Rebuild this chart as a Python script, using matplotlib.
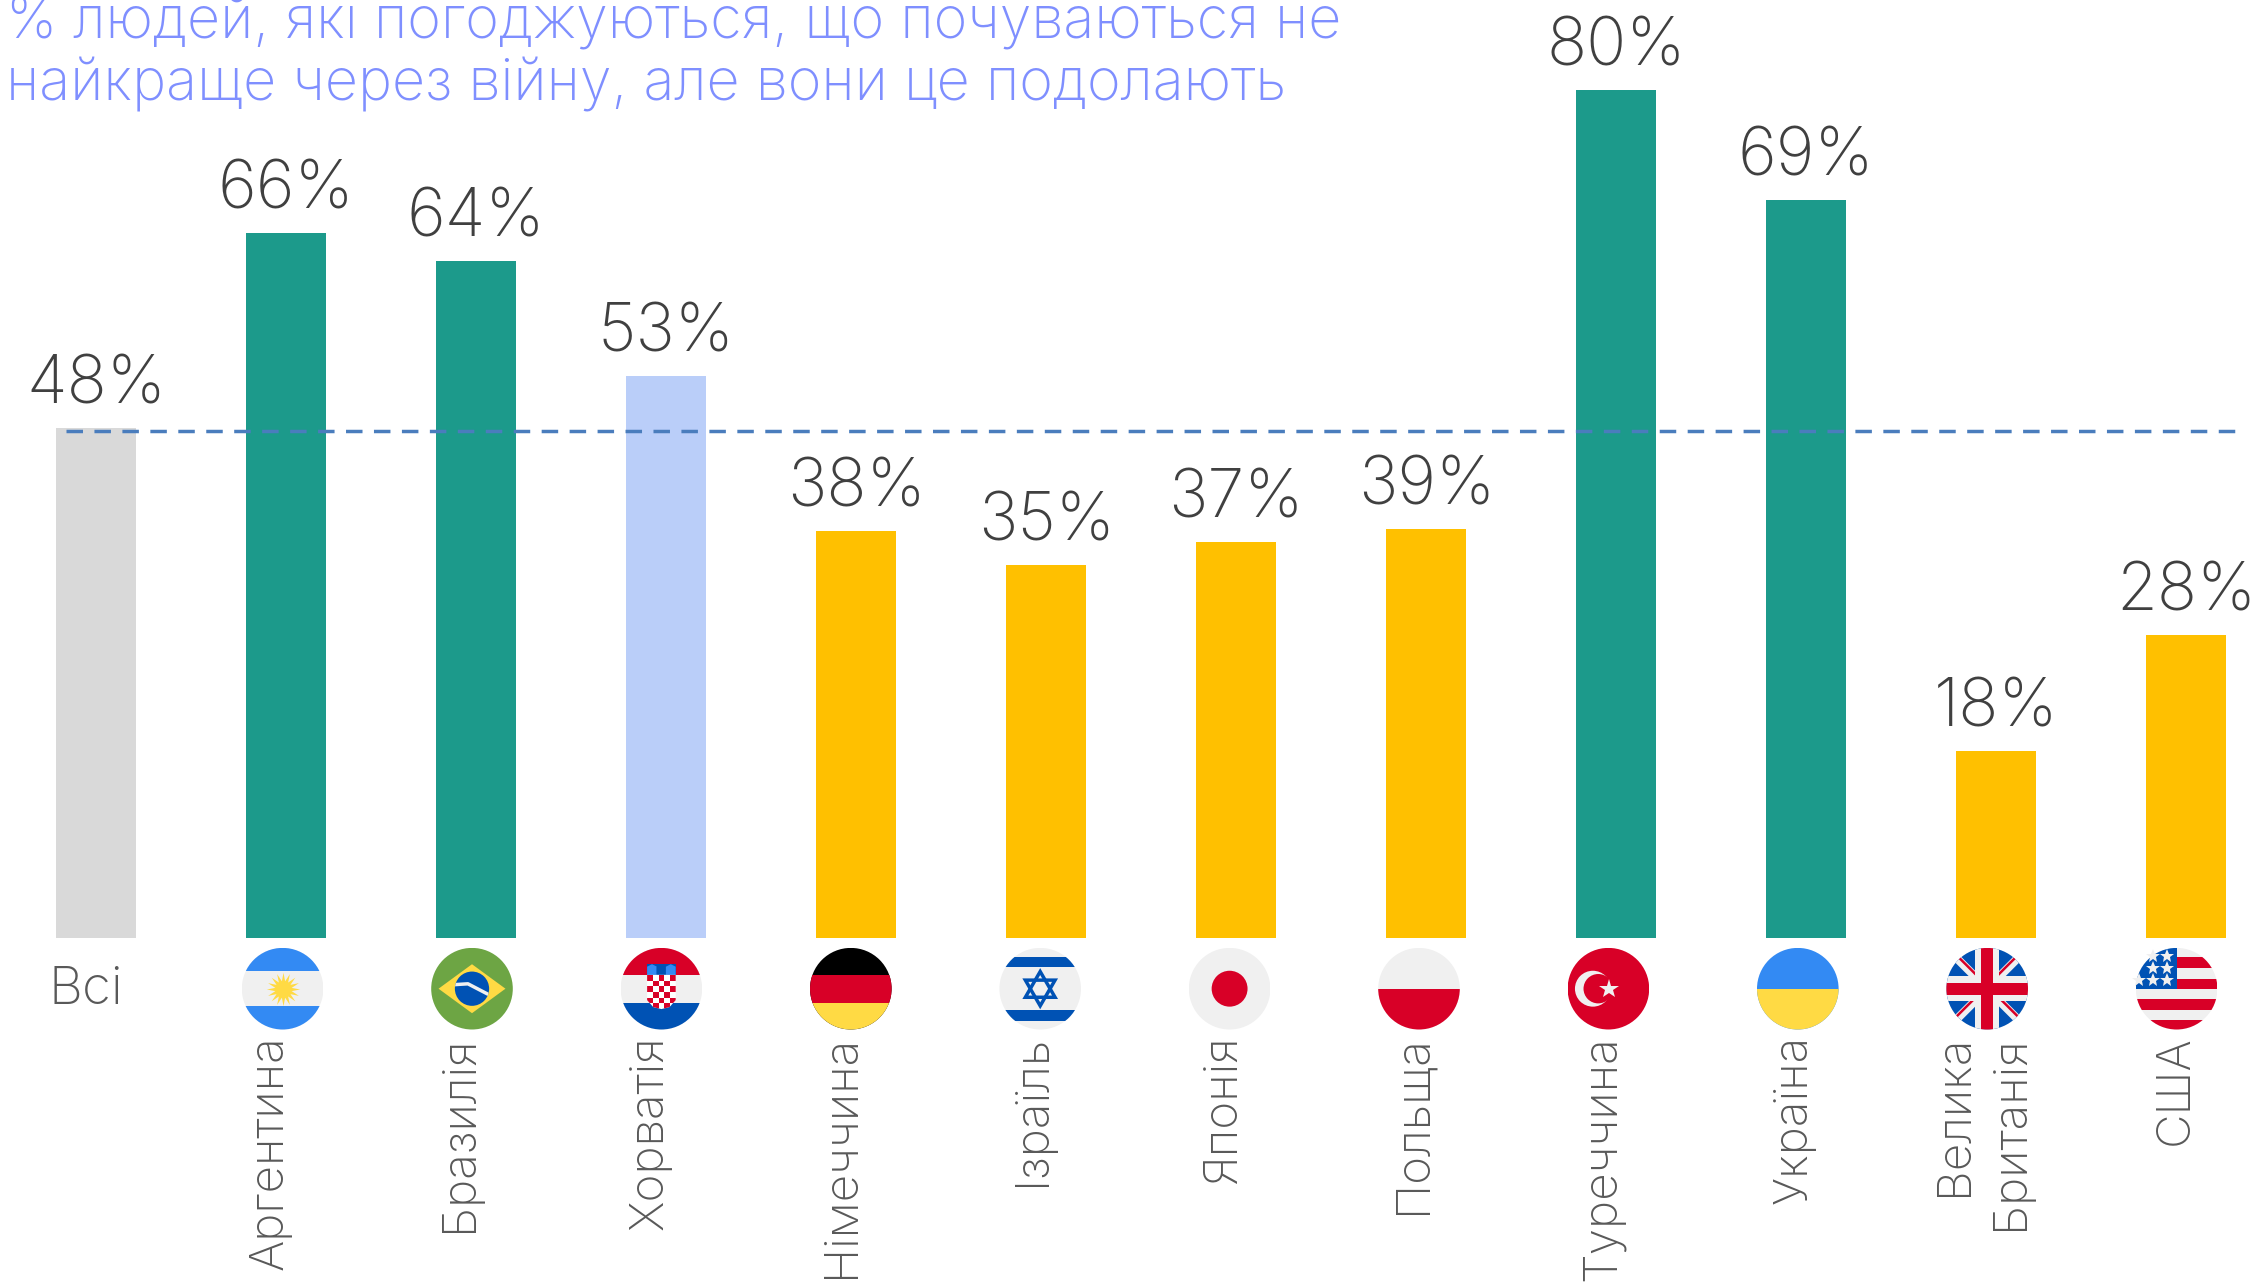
import matplotlib
matplotlib.use("Agg")
import matplotlib.pyplot as plt
from matplotlib.patches import Circle, Rectangle, Polygon, RegularPolygon

W, H = 2252, 1283
plt.rcParams['font.family'] = ['Inter', 'DejaVu Sans']

categories = ["Всі", "Аргентина", "Бразилія", "Хорватія", "Німеччина", "Ізраїль", "Японія",
              "Польща", "Туреччина", "Україна", "Велика\nБританія", "США"]
value_labels = [48, 66, 64, 53, 38, 35, 37, 39, 80, 69, 18, 28]
values = [48, 66.3, 63.7, 52.9, 38.3, 35.1, 37.3, 38.5, 79.8, 69.4, 17.6, 28.5]
bar_colors = ["#D9D9D9", "#1C9A8B", "#1C9A8B", "#BACEF9", "#FFC000", "#FFC000", "#FFC000",
              "#FFC000", "#1C9A8B", "#1C9A8B", "#FFC000", "#FFC000"]
flag_names = ["ar", "br", "hr", "de", "il", "jp", "pl", "tr", "ua", "gb", "us"]
avg_value = 47.7
title = "% людей, які погоджуються, що почуваються не\nнайкраще через війну, але вони це подолають"

# geometria em pixels da figura
x0_px, pitch_px, bar_px = 96.2, 190.0, 79.5
base_px, px_per_unit = 938.0, 10.63

fig = plt.figure(figsize=(W / 100, H / 100), dpi=100, facecolor="white")
ax = fig.add_axes([0, 1 - base_px / H, 1, base_px / H])
ax.set_xlim(-x0_px / pitch_px, (W - x0_px) / pitch_px)
ax.set_ylim(0, base_px / px_per_unit)
ax.axis("off")

xs = list(range(len(categories)))
ax.bar(xs, values, width=bar_px / pitch_px, color=bar_colors, linewidth=0)
ax.hlines(avg_value, (66 - x0_px) / pitch_px, (2240 - x0_px) / pitch_px, color="#4A7DBD", linewidth=2.5,
          linestyles=(0, (4.75, 3.3)), zorder=3)

for x, v, lab in zip(xs, values, value_labels):
    ax.annotate(f"{lab}%", (x, v), xytext=(0, 17.5), textcoords="offset points", ha="center", va="baseline",
                fontsize=47.8, fontweight="light", color="#404040")

fig.text(6 / W, 1 - 100.5 / H, title, fontsize=41.4, fontweight="light", color="#7F8FFF", va="baseline",
         linespacing=1.17)

# rotulos
fig.text(49 / W, 1 - 990 / H, categories[0], fontsize=38, fontweight="light", color="#595959", va="center")
label_x = [271, 460, 651, 842, 1033, 1224, 1414, 1603, 1795, 1983, 2176]
for name, lx in zip(categories[1:], label_x):
    fig.text(lx / W, 1 - 1035 / H, name, rotation=90, ha="center", va="top", multialignment="right",
             fontsize=34.3, fontweight="light", color="#595959", linespacing=1.33)


# bandeiras
BLUE, WHITE, YEL, RED, DBLUE, GREEN = "#338AF3", "#F0F0F0", "#FFDA44", "#D80027", "#0052B4", "#6DA544"


def add(a, p, clip):
    a.add_patch(p)
    p.set_clip_path(clip)
    return p


def band(a, clip, y0, y1, color, x0=-1.1, x1=1.1, z=1):
    add(a, Rectangle((x0, y0), x1 - x0, y1 - y0, color=color, linewidth=0, zorder=z), clip)


def star(a, x, y, size, color="white", marker="*"):
    a.plot([x], [y], marker=marker, ms=size, color=color, mew=0, clip_on=False)


def draw_flag(a, kind):
    base = {"ar": WHITE, "br": GREEN, "hr": WHITE, "de": "#000000", "il": WHITE, "jp": WHITE,
            "pl": WHITE, "tr": RED, "ua": BLUE, "gb": WHITE, "us": WHITE}[kind]
    c = Circle((0, 0), 1, color=base, linewidth=0)
    a.add_patch(c)
    if kind == "ar":
        band(a, c, 0.43, 1.1, BLUE)
        band(a, c, -1.1, -0.43, BLUE)
        star(a, 0, 0, 24, YEL, (16, 1, 0))
    elif kind == "br":
        a.add_patch(Polygon([(-0.82, 0), (0, 0.6), (0.82, 0), (0, -0.6)], color=YEL, linewidth=0))
        c2 = Circle((0, 0), 0.42, color=DBLUE, linewidth=0)
        a.add_patch(c2)
        a.plot([-0.42, -0.1, 0.42], [0.1, 0.12, -0.15], color=WHITE, lw=2.5)[0].set_clip_path(c2)
    elif kind == "hr":
        band(a, c, 0.34, 1.1, RED)
        band(a, c, -1.1, -0.34, DBLUE)
        a.add_patch(Rectangle((-0.35, 0.34), 0.7, 0.26, color=DBLUE, linewidth=0))
        for cx, col in zip((-0.23, 0, 0.23), (BLUE, DBLUE, BLUE)):
            a.add_patch(Polygon([(cx - 0.12, 0.34), (cx - 0.12, 0.54), (cx, 0.6), (cx + 0.12, 0.54), (cx + 0.12, 0.34)],
                                color=col, linewidth=0))
        clip = Polygon([(-0.35, 0.34), (0.35, 0.34), (0.35, -0.28), (0.2, -0.45), (0, -0.5), (-0.2, -0.45), (-0.35, -0.28)],
                       facecolor="white", linewidth=0)
        a.add_patch(clip)
        n = 0.14
        for r in range(6):
            for k in range(5):
                if (r + k) % 2 == 0:
                    add(a, Rectangle((-0.35 + k * n, 0.34 - (r + 1) * n), n, n, color=RED, linewidth=0), clip)
    elif kind == "de":
        band(a, c, -0.34, 0.34, RED)
        band(a, c, -1.1, -0.34, YEL)
    elif kind == "il":
        band(a, c, 0.52, 0.78, DBLUE)
        band(a, c, -0.78, -0.52, DBLUE)
        for ang in (0, 3.14159):
            a.add_patch(RegularPolygon((0, 0), 3, radius=0.42, orientation=ang, fill=False, edgecolor=DBLUE, linewidth=2.5))
    elif kind == "jp":
        a.add_patch(Circle((0, 0), 0.44, color=RED, linewidth=0))
    elif kind == "pl":
        band(a, c, -1.1, 0, RED)
    elif kind == "tr":
        a.add_patch(Circle((-0.38, 0), 0.44, color=WHITE, linewidth=0))
        a.add_patch(Circle((-0.25, 0), 0.36, color=RED, linewidth=0))
        star(a, 0.02, 0, 15, WHITE)
    elif kind == "ua":
        band(a, c, -1.1, 0, YEL)
    elif kind == "gb":
        band(a, c, -1.1, 1.1, DBLUE)
        for s in (1, -1):
            a.plot([-1, 1], [-s, s], color=WHITE, lw=6)[0].set_clip_path(c)
            a.plot([-1, 1], [-s + 0.07, s + 0.07], color=RED, lw=1.8)[0].set_clip_path(c)
        band(a, c, -0.3, 0.3, WHITE, z=3)
        add(a, Rectangle((-0.3, -1.1), 0.6, 2.2, color=WHITE, linewidth=0, zorder=3), c)
        band(a, c, -0.15, 0.15, RED, z=4)
        add(a, Rectangle((-0.15, -1.1), 0.3, 2.2, color=RED, linewidth=0, zorder=4), c)
    elif kind == "us":
        for y0, y1 in ((0.51, 0.77), (0, 0.25)):
            band(a, c, y0, y1, RED, x0=0)
        band(a, c, -0.52, -0.26, RED)
        band(a, c, -1.1, -0.77, RED)
        band(a, c, 0, 1.1, DBLUE, x0=-1.1, x1=0)
        for sx, sy in ((-0.23, 0.81), (-0.58, 0.81), (-0.23, 0.5), (-0.58, 0.5), (-0.23, 0.21), (-0.58, 0.21), (-0.92, 0.21)):
            star(a, sx, sy, 10, WHITE)


flag_x0, flag_pitch, flag_y, flag_r = 282.6, 189.4, 988.7, 40.8
for i, kind in enumerate(flag_names):
    cx = flag_x0 + i * flag_pitch
    fa = fig.add_axes([(cx - flag_r) / W, 1 - (flag_y + flag_r) / H, 2 * flag_r / W, 2 * flag_r / H])
    fa.set_xlim(-1, 1)
    fa.set_ylim(-1, 1)
    fa.axis("off")
    draw_flag(fa, kind)

fig.savefig("out.png", dpi=100)
